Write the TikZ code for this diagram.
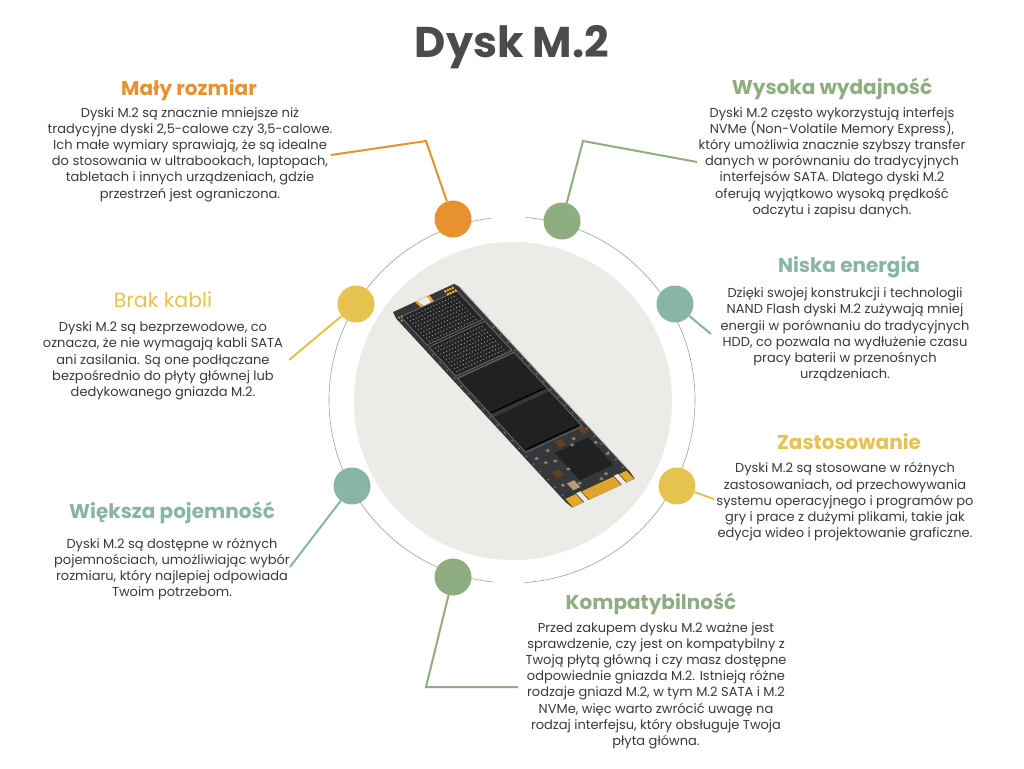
\documentclass[tikz,border=0pt]{standalone}
\usepackage{fontspec}
\setmainfont{Poppins}
\usepackage{tikz}

\definecolor{orangeM}{HTML}{E8922F}
\definecolor{greenM}{HTML}{8EAD80}
\definecolor{tealM}{HTML}{89B5A5}
\definecolor{yellowM}{HTML}{E6C350}
\definecolor{discM}{HTML}{ECEBE7}
\definecolor{bodyM}{HTML}{3A3A3A}
\definecolor{titleM}{HTML}{4B4B4B}
\definecolor{boardM}{HTML}{35383A}
\definecolor{chipM}{HTML}{202122}
\definecolor{traceM}{HTML}{777B7E}
\definecolor{goldM}{HTML}{E2AA2C}

\newcommand{\quadfill}[5]{\fill [#1] (#2, #3) -- (#4, #3) -- (#4, #5) -- (#2, #5) -- cycle;}

\begin{document}
\begin{tikzpicture}[x = 1pt, y = -1pt,
        dot/.style = {circle, minimum size = 37pt, inner sep = 0pt},
        link/.style = {line width = 2pt},
        head/.style = {anchor = base, font = \bfseries\fontsize{20}{20}\selectfont},
        body/.style = {align = center, text = bodyM, font = \fontsize{13}{16.2}\selectfont}]
        \useasboundingbox [fill = white] (0, 0) rectangle (1024, 768);
        \node [anchor = base, text = titleM, font = \bfseries\fontsize{43}{43}\selectfont] (title) at (512, 58) {Dysk M.2};
        \fill [discM] (513, 401) circle (159);
        \draw [greenM, line width = 0.6pt] (512, 400) ++ (-85.7:183) arc (-85.7:86:183);
        \draw [greenM, line width = 0.6pt] (512, 400) ++ (95.9:183) arc (95.9:263.5:183);
        \begin{scope}[shift = {(391pt, -313pt)}, x = {(65pt, 30pt)}, y = {(180pt, -195pt)}]
                \fill [boardM] (0.03, 0) -- (0.97, 0) -- (1, 0.02) -- (1, 0.96) -- (0.98, 1) -- (0.85, 1) -- (0.85, 0.955) -- (0.78, 0.955) -- (0.78, 1) -- (0.27, 1) -- (0.27, 0.955) -- (0.20, 0.955) -- (0.20, 1) -- (0.02, 1) -- (0, 0.97) -- (0, 0.03) -- cycle;
                \draw [gray!55, line width = 0.8pt] (1, 0.02) -- (1, 0.96);
                \fill [goldM] (0.37, 0) .. controls (0.37, 0.085) and (0.59, 0.085) .. (0.59, 0) -- cycle;
                \fill [discM] (0.41, 0) .. controls (0.41, 0.055) and (0.55, 0.055) .. (0.55, 0) -- cycle;
                \quadfill{chipM!80!boardM}{0.07}{0.03}{0.93}{0.335}
                \draw [traceM, line width = 0.6pt] (0.07, 0.03) -- (0.93, 0.03) -- (0.93, 0.175) -- (0.07, 0.175) -- cycle;
                \draw [traceM, line width = 0.6pt] (0.07, 0.185) -- (0.93, 0.185) -- (0.93, 0.335) -- (0.07, 0.335) -- cycle;
                \foreach \s in {0.13, 0.175, ..., 0.88}
                        \foreach \t in {0.045, 0.06, ..., 0.165, 0.2, 0.215, ..., 0.325}
                                \fill [gray!75] (\s, \t) circle (0.65pt);
                \quadfill{chipM}{0.07}{0.35}{0.93}{0.53}
                \quadfill{chipM}{0.07}{0.545}{0.93}{0.72}
                \draw [traceM, line width = 0.5pt] (0.065, 0.345) -- (0.935, 0.345) -- (0.935, 0.725) -- (0.065, 0.725) -- cycle;
                \draw [black, line width = 1.2pt] (0.09, 0.525) -- (0.91, 0.525);
                \draw [black, line width = 1.2pt] (0.09, 0.715) -- (0.91, 0.715);
                \quadfill{chipM}{0.37}{0.775}{0.89}{0.915}
                \quadfill{brown!50!black}{0.48}{0.735}{0.58}{0.765}
                \quadfill{brown!50!black}{0.15}{0.84}{0.25}{0.87}
                \quadfill{brown!50!black}{0.86}{0.73}{0.95}{0.755}
                \quadfill{brown!60!gray!80!white}{0.20}{0.905}{0.31}{0.94}
                \foreach \t in {0.22, 0.26, ..., 0.94}
                        \fill [traceM] (0.035, \t) circle (0.9pt) (0.965, \t) circle (0.9pt);
                \foreach \s/\t in {0.1/0.76, 0.16/0.79, 0.28/0.8, 0.3/0.75, 0.34/0.85, 0.12/0.9, 0.9/0.8, 0.92/0.86, 0.7/0.75, 0.62/0.77, 0.32/0.92, 0.6/0.94, 0.7/0.93}
                        \quadfill{brown!40!gray}{\s}{\t}{\s + 0.04}{\t + 0.01}
                \foreach \s in {0.80, 0.84, 0.88, 0.92}
                        \fill [goldM] (\s, 0.012) circle (1pt) (\s, 0.027) circle (1pt);
                \fill [goldM] (0.04, 0.03) circle (1pt) (0.08, 0.03) circle (1pt) (0.04, 0.045) circle (1pt);
                \quadfill{goldM}{0.03}{0.958}{0.19}{1}
                \quadfill{goldM}{0.28}{0.958}{0.77}{1}
                \quadfill{goldM}{0.86}{0.958}{0.97}{1}
                \foreach \s in {0.30, 0.32, ..., 0.76}
                        \draw [goldM!70!brown, line width = 0.3pt] (\s, 0.962) -- (\s, 1);
        \end{scope}
        \coordinate (kSize) at (426, 141);
        \coordinate (eSize) at (331, 155);
        \coordinate (kPerf) at (583, 141);
        \coordinate (ePerf) at (697, 162);
        \coordinate (eEnergy) at (711, 334);
        \coordinate (eUse) at (714, 499);
        \coordinate (eCable) at (289, 360);
        \coordinate (eCap) at (290, 567);
        \coordinate (kComp) at (426, 687);
        \coordinate (eComp) at (518, 687);
        \node [dot, fill = orangeM] (dotSize) at (453, 219) {};
        \node [dot, fill = greenM] (dotPerf) at (562, 221) {};
        \node [dot, fill = tealM] (dotEnergy) at (675, 304) {};
        \node [dot, fill = yellowM] (dotUse) at (677, 486) {};
        \node [dot, fill = greenM] (dotComp) at (453, 577) {};
        \node [dot, fill = tealM] (dotCap) at (352, 486) {};
        \node [dot, fill = yellowM] (dotCable) at (356, 304) {};
        \draw [link, orangeM] (dotSize) -- (kSize) -- (eSize);
        \draw [link, greenM] (dotPerf) -- (kPerf) -- (ePerf);
        \draw [link, tealM] (dotEnergy) -- (eEnergy);
        \draw [link, yellowM] (dotUse) -- (eUse);
        \draw [link, yellowM] (dotCable) -- (eCable);
        \draw [link, tealM] (dotCap) -- (eCap);
        \draw [link, greenM] (dotComp) -- (kComp) -- (eComp);
        \node [head, text = orangeM] (hSize) at (189, 95) {Mały rozmiar};
        \node [body] (tSize) at (190, 154.5) {Dyski M.2 są znacznie mniejsze niż\\tradycyjne dyski 2,5-calowe czy 3,5-calowe.\\Ich małe wymiary sprawiają, że są idealne\\do stosowania w ultrabookach, laptopach,\\tabletach i innych urządzeniach, gdzie\\przestrzeń jest ograniczona.};
        \node [head, text = greenM] (hPerf) at (832, 94) {Wysoka wydajność};
        \node [body] (tPerf) at (832, 162.5) {Dyski M.2 często wykorzystują interfejs\\NVMe (Non-Volatile Memory Express),\\który umożliwia znacznie szybszy transfer\\danych w porównaniu do tradycyjnych\\interfejsów SATA. Dlatego dyski M.2\\oferują wyjątkowo wysoką prędkość\\odczytu i zapisu danych.};
        \node [head, text = tealM] (hEnergy) at (849, 272) {Niska energia};
        \node [body] (tEnergy) at (845, 334.5) {Dzięki swojej konstrukcji i technologii\\NAND Flash dyski M.2 zużywają mniej\\energii w porównaniu do tradycyjnych\\HDD, co pozwala na wydłużenie czasu\\pracy baterii w przenośnych\\urządzeniach.};
        \node [head, text = yellowM, font = \fontsize{20.5}{20.5}\selectfont] (hCable) at (163, 307) {Brak kabli};
        \node [body] (tCable) at (163, 361) {Dyski M.2 są bezprzewodowe, co\\oznacza, że nie wymagają kabli SATA\\ani zasilania. Są one podłączane\\bezpośrednio do płyty głównej lub\\dedykowanego gniazda M.2.};
        \node [head, text = tealM] (hCap) at (172, 518) {Większa pojemność};
        \node [body] (tCap) at (172, 569) {Dyski M.2 są dostępne w różnych\\pojemnościach, umożliwiając wybór\\rozmiaru, który najlepiej odpowiada\\Twoim potrzebom.};
        \node [head, text = yellowM] (hUse) at (849, 449) {Zastosowanie};
        \node [body] (tUse) at (845, 502) {Dyski M.2 są stosowane w różnych\\zastosowaniach, od przechowywania\\systemu operacyjnego i programów po\\gry i prace z dużymi plikami, takie jak\\edycja wideo i projektowanie graficzne.};
        \node [head, text = greenM] (hComp) at (651, 609) {Kompatybilność};
        \node [body] (tComp) at (656, 685.5) {Przed zakupem dysku M.2 ważne jest\\sprawdzenie, czy jest on kompatybilny z\\Twoją płytą główną i czy masz dostępne\\odpowiednie gniazda M.2. Istnieją różne\\rodzaje gniazd M.2, w tym M.2 SATA i M.2\\NVMe, więc warto zwrócić uwagę na\\rodzaj interfejsu, który obsługuje Twoja\\płyta główna.};
\end{tikzpicture}
\end{document}
